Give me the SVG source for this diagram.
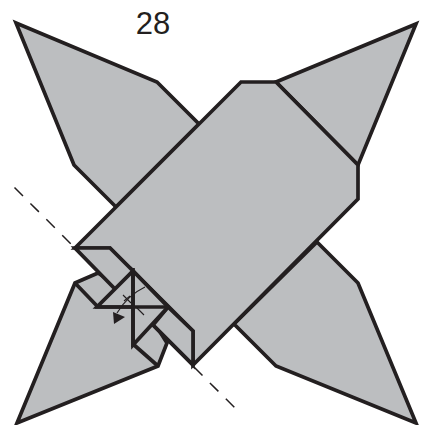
<svg xmlns="http://www.w3.org/2000/svg" width="422" height="425" viewBox="0 0 422 425">
<style>
.f{fill:#bcbec0;stroke:#231f20;stroke-width:3.7;stroke-linejoin:miter}
.l{fill:none;stroke:#231f20;stroke-width:3.7;stroke-linecap:butt}
.t{fill:none;stroke:#231f20;stroke-width:1.1}
.d{fill:none;stroke:#231f20;stroke-width:1.5;stroke-dasharray:12 10.5}
text{font-family:"Liberation Sans",Arial,sans-serif;font-size:31px;fill:#231f20}
</style>
<rect width="422" height="425" fill="#fff"/>
<text id="label" x="153" y="34" text-anchor="middle">28</text>
<g id="connectors">
<path class="d" d="M14.500 187.500L75 248"/>
<path class="d" d="M194 367L238 411"/>
</g>
<g id="flap-top-left"><path class="f" d="M16 23L157 82L199 124L116 207L74 165Z"/></g>
<g id="flap-top-right"><path class="f" d="M276 82L416 24L358 165Z"/></g>
<g id="flap-bottom-right"><path class="f" d="M317 242L358 283L416 423L276 366L234 324Z"/></g>
<g id="flap-bottom-left"><path class="f" d="M98 273L75 283L17 423L158 366L167 343L140 300Z"/></g>
<g id="body"><path class="f" d="M75 248L241 82L276 82L358 165L358 199L193 365L193 331L110 248Z"/></g>
<g id="strip-upper"><path class="f" d="M75 248L110 248L133 271L116 290Z"/></g>
<g id="strip-lower"><path class="f" d="M168 307L193 331L193 365L153 325Z"/></g>
<g id="folds">
<path class="f" d="M133 271L168 307L97 307Z"/>
<path class="f" d="M133 271L133 345L168 307Z"/>
<path class="l" d="M75 283L98 307M95 307L168 307M133 268V347M133 344L158 366M153 325L193 365"/>
</g>
<g id="fold-arrow">
<path class="t" d="M145 287Q128 295 117 313"/>
<path class="t" d="M123 295L131 303M136 307L144 315M124 301L130 296"/>
<path d="M113 312L125 317L114 324Z" fill="#231f20"/>
</g>
</svg>
